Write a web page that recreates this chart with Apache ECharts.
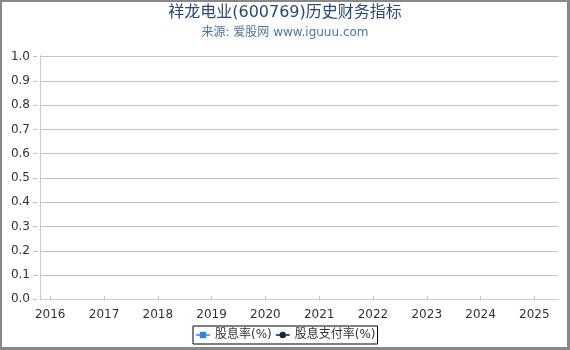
<!DOCTYPE html>
<html>
<head>
<meta charset="utf-8">
<script src="https://cdn.jsdelivr.net/npm/echarts@6/dist/echarts.min.js"></script>
<style>
html,body{margin:0;padding:0;background:#fff;}
#chart{width:570px;height:350px;}
</style>
</head>
<body>
<div id="chart"></div>
<script>
var years = [2016, 2017, 2018, 2019, 2020, 2021, 2022, 2023, 2024, 2025];
var dividendYield = [null, null, null, null, null, null, null, null, null, null];
var payoutRatio = [null, null, null, null, null, null, null, null, null, null];
var yTicks = [0, 0.1, 0.2, 0.3, 0.4, 0.5, 0.6, 0.7, 0.8, 0.9, 1.0];
var seriesNames = ['股息率(%)', '股息支付率(%)'];
var titleText = '祥龙电业(600769)历史财务指标';
var subText = '来源: 爱股网 www.iguuu.com';

function pairs(vals) {
  return years.map(function (y, i) { return [y, vals[i]]; });
}

var FONT = "'DejaVu Sans', 'Noto Sans CJK SC', sans-serif";
var chart = echarts.init(document.getElementById('chart'), null, {renderer: 'canvas'});
chart.setOption({
  backgroundColor: '#fff',
  animation: false,
  textStyle: {fontFamily: FONT},
  title: {
    text: titleText,
    subtext: subText,
    left: 'center',
    top: 5,
    itemGap: 6,
    padding: 0,
    textStyle: {fontSize: 16, fontWeight: 'normal', color: '#2b4a6e', fontFamily: FONT, lineHeight: 16},
    subtextStyle: {fontSize: 12, color: '#4e74a2', fontFamily: FONT, lineHeight: 12}
  },
  legend: {
    data: seriesNames,
    left: 193,
    top: 326,
    orient: 'horizontal',
    borderColor: '#000',
    borderWidth: 1,
    borderRadius: 0,
    padding: [3, 2],
    itemWidth: 14,
    itemHeight: 8,
    itemGap: 3,
    textStyle: {fontSize: 12, color: '#333', fontFamily: FONT}
  },
  grid: [
    {left: 40, right: 12, top: 56.7, bottom: 50.7},
    {left: 40, right: 12, top: 55, bottom: 50}
  ],
  xAxis: [
    {
      gridIndex: 0,
      type: 'value',
      min: 2015.81,
      max: 2025.44,
      offset: 5,
      axisLine: {show: true, lineStyle: {color: '#ccc', width: 1}},
      axisTick: {show: true, inside: true, length: 3, lineStyle: {color: '#bbb'}, customValues: years},
      axisLabel: {show: true, margin: 5, fontSize: 12, color: '#333', customValues: years,
        formatter: function (v) { return String(v); }},
      splitLine: {show: false}
    },
    {gridIndex: 1, type: 'value', show: false, min: 0, max: 1}
  ],
  yAxis: [
    {
      gridIndex: 0,
      type: 'value',
      min: 0,
      max: 1,
      interval: 0.1,
      offset: 3,
      axisLine: {show: false},
      axisTick: {show: true, length: 4, lineStyle: {color: '#bbb'}},
      axisLabel: {margin: 7, fontSize: 12, color: '#333',
        formatter: function (v) { return v.toFixed(1); }},
      splitLine: {show: true, showMinLine: false, lineStyle: {color: '#c4c4c4', width: 1}}
    },
    {
      gridIndex: 1,
      type: 'value',
      min: 0,
      max: 1,
      offset: 3,
      axisLine: {show: true, lineStyle: {color: '#ccc', width: 1}},
      axisTick: {show: false},
      axisLabel: {show: false},
      splitLine: {show: false}
    }
  ],
  series: [
    {
      name: seriesNames[0],
      type: 'line',
      xAxisIndex: 0,
      yAxisIndex: 0,
      symbol: 'rect',
      symbolSize: 6,
      itemStyle: {color: '#2f86e0'},
      lineStyle: {color: '#6aa6e6', width: 2},
      data: pairs(dividendYield)
    },
    {
      name: seriesNames[1],
      type: 'line',
      xAxisIndex: 0,
      yAxisIndex: 0,
      symbol: 'circle',
      symbolSize: 6,
      itemStyle: {color: '#15263d'},
      lineStyle: {color: '#4a5566', width: 2},
      data: pairs(payoutRatio)
    }
  ],
  graphic: [
    {type: 'rect', shape: {x: 0, y: 0, width: 570, height: 2}, style: {fill: '#888'}, silent: true},
    {type: 'rect', shape: {x: 0, y: 0, width: 2, height: 350}, style: {fill: '#888'}, silent: true},
    {type: 'rect', shape: {x: 567, y: 0, width: 3, height: 350}, style: {fill: '#888'}, silent: true},
    {type: 'rect', shape: {x: 0, y: 347, width: 570, height: 3}, style: {fill: '#888'}, silent: true}
  ]
});
</script>
</body>
</html>
